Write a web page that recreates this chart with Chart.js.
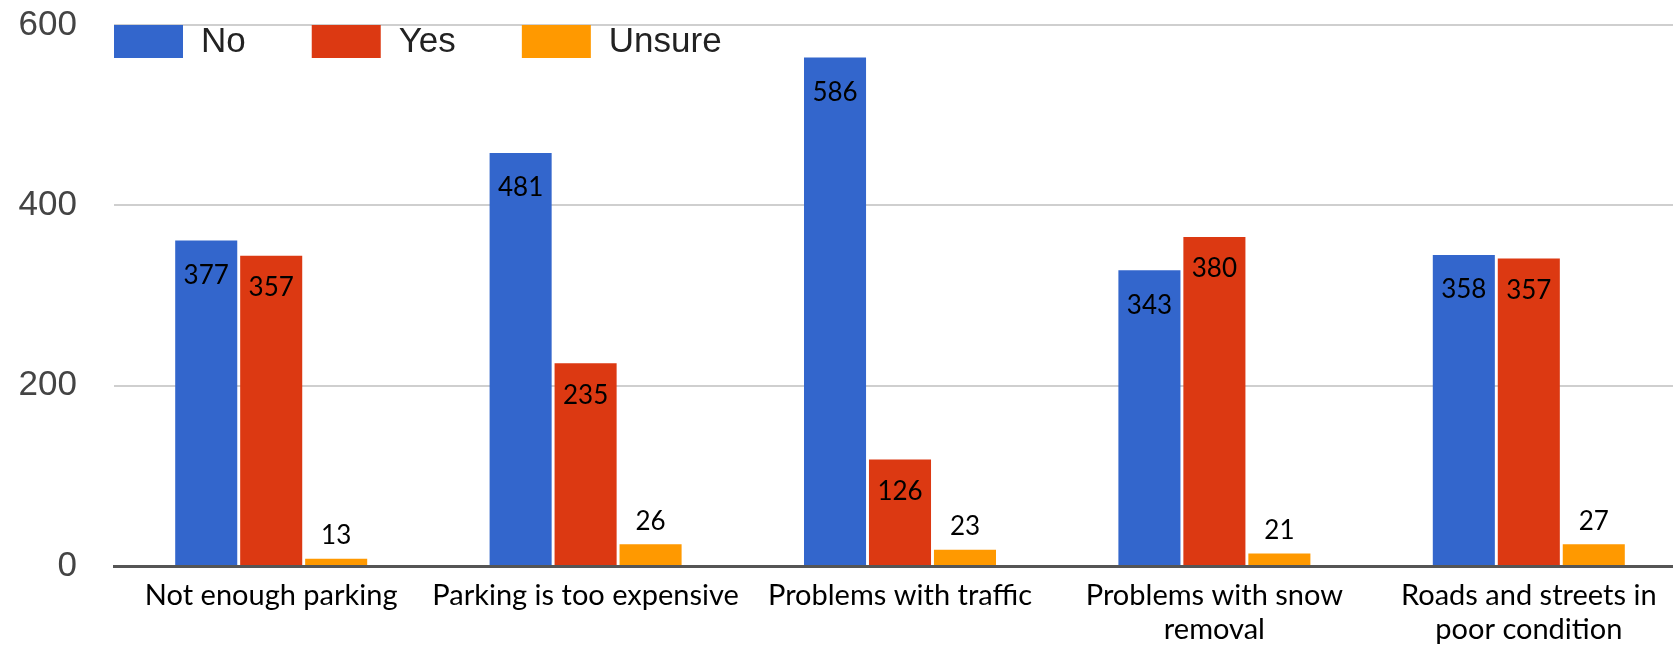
<!DOCTYPE html>
<html><head><meta charset="utf-8">
<script src="https://cdn.jsdelivr.net/npm/chart.js@4.4.1/dist/chart.umd.min.js"></script>
<style>
html,body{margin:0;padding:0;background:#fff;overflow:hidden;width:1673px;height:653px}
#wrap{position:absolute;left:0;top:0;width:1686px;height:653px}
</style></head>
<body><div id="wrap"><canvas id="c" width="1686" height="653"></canvas></div>
<script>
// ---- data ----
const categories = [
  'Not enough parking',
  'Parking is too expensive',
  'Problems with traffic',
  ['Problems with snow', 'removal'],
  ['Roads and streets in', 'poor condition']
];
const seriesNames = ['No', 'Yes', 'Unsure'];
// bar heights as drawn in the picture
const noValues = [361, 458, 564, 328, 345];
const yesValues = [344, 225, 118, 365, 341];
const unsureValues = [8, 24, 18, 14, 24];
// numbers printed on the bars
const noLabels = ['377', '481', '586', '343', '358'];
const yesLabels = ['357', '235', '126', '380', '357'];
const unsureLabels = ['13', '26', '23', '21', '27'];
const yMin = 0, yMax = 600, yStep = 200;

const colors = ['#3366CC', '#DC3912', '#FF9900'];
const labelSets = [noLabels, yesLabels, unsureLabels];

// printed numbers plugin
const barText = {
  id: 'barText',
  afterDatasetsDraw(chart, args, opts) {
    const ctx = chart.ctx;
    ctx.save();
    ctx.font = opts.font;
    ctx.fillStyle = opts.color;
    ctx.textAlign = 'center';
    ctx.textBaseline = 'middle';
    chart.data.datasets.forEach((ds, i) => {
      const meta = chart.getDatasetMeta(i);
      meta.data.forEach((bar, j) => {
        ctx.fillText(ds.printed[j], bar.x, bar.y + opts.offsets[i]);
      });
    });
    ctx.restore();
  }
};

// legend drawn inside the plot, over the top gridline
const topLegend = {
  id: 'topLegend',
  afterDraw(chart, args, opts) {
    const ctx = chart.ctx;
    ctx.save();
    ctx.font = opts.font;
    ctx.textBaseline = 'middle';
    ctx.textAlign = 'left';
    let x = opts.x;
    chart.data.datasets.forEach((ds) => {
      ctx.fillStyle = ds.backgroundColor;
      ctx.fillRect(x, opts.y, opts.boxW, opts.boxH);
      x += opts.boxW + opts.textGap;
      ctx.fillStyle = opts.color;
      ctx.fillText(ds.label, x, opts.y + opts.boxH / 2 + 1);
      x += ctx.measureText(ds.label).width + opts.itemGap;
    });
    ctx.restore();
  }
};

const valueSets = [noValues, yesValues, unsureValues];
new Chart(document.getElementById('c'), {
  type: 'bar',
  data: {
    labels: categories,
    datasets: seriesNames.map((name, i) => ({
      label: name,
      data: valueSets[i],
      printed: labelSets[i],
      backgroundColor: colors[i],
      borderWidth: 0,
      categoryPercentage: 0.62,
      barPercentage: 0.955
    }))
  },
  options: {
    responsive: false,
    animation: false,
    devicePixelRatio: 1,
    layout: { padding: { top: 25, left: 0, right: 0, bottom: 0 } },
    plugins: {
      legend: { display: false },
      tooltip: { enabled: false },
      barText: { font: '26px Lato', color: '#000', offsets: [35, 32, -23] },
      topLegend: { x: 114, y: 25, boxW: 69, boxH: 33, textGap: 18, itemGap: 66,
                   font: '35px "Liberation Sans", Arial', color: '#222' }
    },
    scales: {
      x: {
        grid: { display: false, drawTicks: false },
        border: { display: true, color: '#555', width: 3 },
        ticks: { color: '#000', font: { family: 'Lato', size: 29, lineHeight: 1.17 },
                 padding: 13, maxRotation: 0, autoSkip: false },
        afterFit(scale) { scale.height = 87; }
      },
      y: {
        min: yMin, max: yMax,
        grid: { color: '#cfcfcf', lineWidth: 2, drawTicks: false },
        border: { display: false },
        ticks: { stepSize: yStep, color: '#444', padding: 37,
                 font: { family: '"Liberation Sans", Arial', size: 35 } },
        afterFit(scale) { scale.width = 114; scale.paddingTop = 0; scale.paddingBottom = 0; }
      }
    }
  },
  plugins: [barText, topLegend]
});
</script>
</body></html>
